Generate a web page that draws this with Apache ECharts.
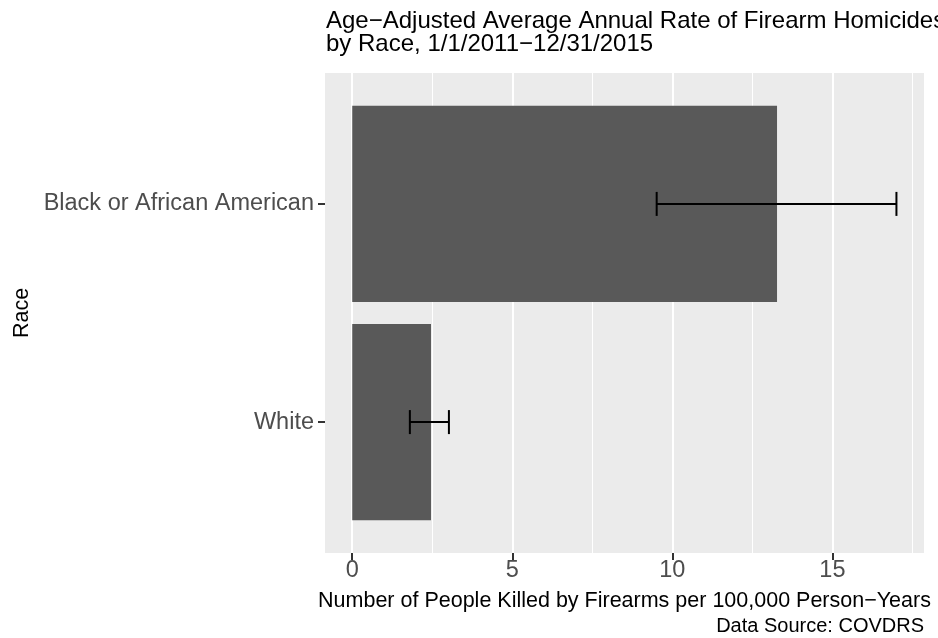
<!DOCTYPE html>
<html><head><meta charset="utf-8">
<script src="https://cdn.jsdelivr.net/npm/echarts@6/dist/echarts.min.js"></script>
<style>html,body{margin:0;padding:0;background:#fff}#c{width:938px;height:638px}</style>
</head><body><div id="c"></div>
<script>
// ---- data ----
const categories = ['White', 'Black or African American'];
const rates = [2.46, 13.27];
const lower = [1.80, 9.51];
const upper = [3.02, 17.00];
const xTicks = [0, 5, 10, 15];
const xMajorGrid = [0, 5, 10, 15];
const xMinorGrid = [2.5, 7.5, 12.5, 17.5];

// ---- derived ----
const catPos = categories.map((c, i) => i + 1);
const barData = categories.map((c, i) => [rates[i], catPos[i]]);
const errData = categories.map((c, i) => [lower[i], upper[i], catPos[i]]);

const FONT = '"Liberation Sans", Arial, Helvetica, sans-serif';
const chart = echarts.init(document.getElementById('c'), null, { renderer: 'canvas' });

chart.setOption({
  backgroundColor: '#ffffff',
  animation: false,
  title: [
    {
      text: 'Age\u2212Adjusted Average Annual Rate of Firearm Homicides\nby Race, 1/1/2011\u221212/31/2015',
      left: 326, top: 10, padding: 0,
      textStyle: { fontFamily: FONT, fontSize: 24, fontWeight: 'normal', color: '#000', lineHeight: 23 }
    },
    {
      text: 'Data Source: COVDRS',
      right: 14, top: 616, padding: 0,
      textStyle: { fontFamily: FONT, fontSize: 20, fontWeight: 'normal', color: '#000', lineHeight: 20 }
    }
  ],
  grid: { left: 325, top: 73, width: 599, height: 480, show: true, backgroundColor: '#EBEBEB', borderWidth: 0 },
  xAxis: {
    type: 'value', min: -0.851, max: 17.861,
    axisLine: { show: false, onZero: false },
    splitLine: { show: false },
    axisTick: { show: true, customValues: xTicks, length: 7, lineStyle: { color: '#333333', width: 2 } },
    axisLabel: { customValues: xTicks, margin: 6, fontFamily: FONT, fontSize: 23.5, color: '#4D4D4D' },
    name: 'Number of People Killed by Firearms per 100,000 Person\u2212Years',
    nameLocation: 'middle', nameGap: 37,
    nameTextStyle: { fontFamily: FONT, fontSize: 21.5, color: '#000' }
  },
  yAxis: {
    type: 'value', min: 0.4, max: 2.6,
    axisLine: { show: false, onZero: false },
    splitLine: { show: false },
    axisTick: { show: true, customValues: catPos, length: 7, lineStyle: { color: '#333333', width: 2 } },
    axisLabel: {
      customValues: catPos, margin: 11, fontFamily: FONT, fontSize: 23.5, color: '#4D4D4D',
      formatter: v => categories[Math.round(v) - 1]
    },
    name: 'Race', nameLocation: 'middle', nameRotate: 90, nameGap: 292,
    nameTextStyle: { fontFamily: FONT, fontSize: 21.5, color: '#000' }
  },
  series: [
    {
      type: 'line', data: [], z: 1, silent: true,
      markLine: {
        z: 1, silent: true, symbol: ['none', 'none'], label: { show: false },
        data: xMinorGrid.map(v => ({ xAxis: v, lineStyle: { color: '#ffffff', width: 1, type: 'solid' } }))
          .concat(xMajorGrid.map(v => ({ xAxis: v, lineStyle: { color: '#ffffff', width: 2, type: 'solid' } })))
      }
    },
    {
      type: 'custom', z: 6, data: barData, encode: { x: 0, y: 1 },
      renderItem: function (params, api) {
        const v = api.value(0), y = api.value(1);
        const p1 = api.coord([0, y + 0.45]);
        const p2 = api.coord([v, y - 0.45]);
        return { type: 'rect', shape: { x: p1[0], y: p1[1], width: p2[0] - p1[0], height: p2[1] - p1[1] }, style: { fill: '#595959' } };
      }
    },
    {
      type: 'custom', z: 7, data: errData, encode: { x: [0, 1], y: 2 },
      renderItem: function (params, api) {
        const lo = api.value(0), hi = api.value(1), y = api.value(2);
        const a = api.coord([lo, y]), b = api.coord([hi, y]);
        const t = api.coord([lo, y + 0.055])[1], bt = api.coord([lo, y - 0.055])[1];
        const st = { stroke: '#000000', lineWidth: 2 };
        return {
          type: 'group', children: [
            { type: 'line', shape: { x1: a[0], y1: a[1], x2: b[0], y2: b[1] }, style: st },
            { type: 'line', shape: { x1: a[0], y1: t, x2: a[0], y2: bt }, style: st },
            { type: 'line', shape: { x1: b[0], y1: t, x2: b[0], y2: bt }, style: st }
          ]
        };
      }
    }
  ]
});
</script>
</body></html>
